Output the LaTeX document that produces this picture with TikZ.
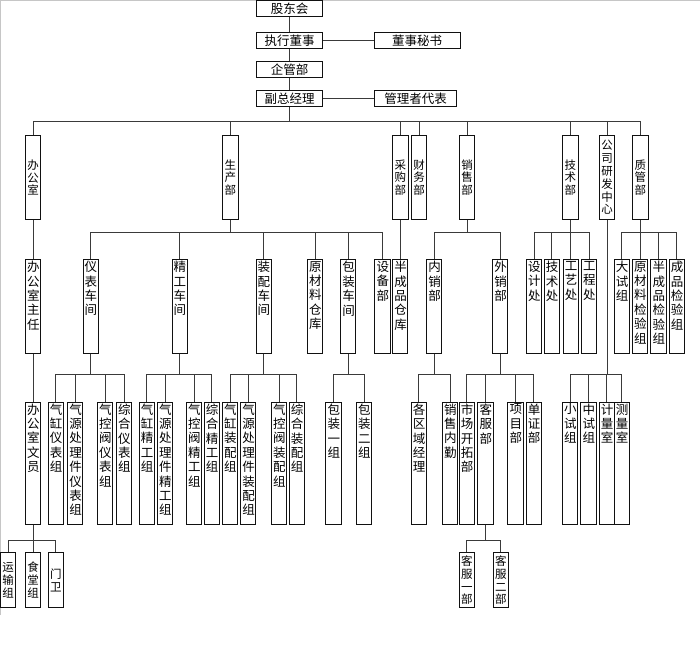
\documentclass[tikz,border=0pt]{standalone}
\usepackage{fontspec}
\newfontfamily\cjk{Noto Sans CJK SC}
\definecolor{ink}{HTML}{111111}
\definecolor{rule}{HTML}{3A3A3A}
\definecolor{edge}{HTML}{C6C6C6}
\newcommand{\vcol}[2]{\parbox[t][#1][t]{12pt}{\centering #2}}

\begin{document}
\begin{tikzpicture}[x=1pt,y=-1pt,font=\cjk,
  topbox/.style={draw=ink,line width=0.9pt,anchor=north,inner sep=0pt,
    minimum height=16pt,font=\cjk\fontsize{12.5}{14}\selectfont},
  deptbox/.style={draw=ink,line width=0.9pt,anchor=north,inner sep=0pt,
    minimum width=15.3pt,minimum height=84.3pt,align=center,
    font=\cjk\fontsize{11.5}{12.8}\selectfont},
  crewbox/.style={deptbox,minimum height=55pt},
  unitbox/.style={draw=ink,line width=0.9pt,anchor=north,inner xsep=1.6pt,
    inner ysep=1.5pt,font=\cjk\fontsize{12.5}{14.4}\selectfont},
  link/.style={draw=rule,line width=0.75pt}]
  \useasboundingbox (0,0) rectangle (700,663);
  \draw[edge,line width=1pt] (0.5,615) -- (0.5,0.5) -- (700,0.5);

  % Board and management chain
  \node[topbox,minimum width=65.6pt] (gdh) at (289.5,0.4) {股东会};
  \node[topbox,minimum width=65.6pt] (zxds) at (289.5,32.3) {执行董事};
  \node[topbox,minimum width=85.7pt] (dsms) at (417.2,32.3) {董事秘书};
  \node[topbox,minimum width=65.6pt] (qgb) at (289.5,61.2) {企管部};
  \node[topbox,minimum width=65.6pt] (fzjl) at (289.5,90) {副总经理};
  \node[topbox,minimum width=82.4pt] (glzdb) at (415.5,90) {管理者代表};

  \draw[link] (gdh.south) -- (zxds.north);
  \draw[link] (zxds.south) -- (qgb.north);
  \draw[link] (qgb.south) -- (fzjl.north);
  \draw[link] (zxds.east) -- (dsms.west);
  \draw[link] (fzjl.east) -- (glzdb.west);

  \coordinate (b0) at (0,121.7);
  \coordinate (b2) at (0,232.7);
  \coordinate (b3) at (0,374);
  \coordinate (b4) at (0,540);

  % Departments
  \node[deptbox] (bgs) at (33.2,135) {办\\公\\室};
  \node[deptbox] (scb) at (230.3,135) {生\\产\\部};
  \node[deptbox] (cgb) at (400.3,135) {采\\购\\部};
  \node[deptbox] (cwb) at (419,135) {财\\务\\部};
  \node[deptbox] (xsb) at (467,135) {销\\售\\部};
  \node[deptbox] (jsb) at (570.3,135) {技\\术\\部};
  \node[deptbox] (yfzx) at (607,135) {公\\司\\研\\发\\中\\心};
  \node[deptbox] (zgb) at (640.3,135) {质\\管\\部};

  \foreach \d in {bgs,scb,cgb,cwb,xsb,jsb,yfzx,zgb}
    \draw[link] (fzjl.south) -- (fzjl.south |- b0) -| (\d.north);

  % Workshops and offices
  \node[unitbox] (bzr) at (33.2,259.3) {\vcol{90.4pt}{办\\公\\室\\主\\任}};
  \node[unitbox] (ybcj) at (90.7,259.3) {\vcol{90.4pt}{仪\\表\\车\\间}};
  \node[unitbox] (jgcj) at (179.7,259.3) {\vcol{90.4pt}{精\\工\\车\\间}};
  \node[unitbox] (zpcj) at (263.7,259.3) {\vcol{90.4pt}{装\\配\\车\\间}};
  \node[unitbox] (yclk) at (315,259.3) {\vcol{90.4pt}{原\\材\\料\\仓\\库}};
  \node[unitbox] (bzcj) at (348.3,259.3) {\vcol{90.4pt}{包\\装\\车\\间}};
  \node[unitbox] (sbb) at (382.5,259.3) {\vcol{90.4pt}{设\\备\\部}};
  \node[unitbox] (bcpk) at (400.3,259.3) {\vcol{90.4pt}{半\\成\\品\\仓\\库}};
  \node[unitbox] (nxb) at (434.3,259.3) {\vcol{90.4pt}{内\\销\\部}};
  \node[unitbox] (wxb) at (500.3,259.3) {\vcol{90.4pt}{外\\销\\部}};
  \node[unitbox] (sjc) at (534.2,259.3) {\vcol{90.4pt}{设\\计\\处}};
  \node[unitbox] (jsc) at (551.8,259.3) {\vcol{90.4pt}{技\\术\\处}};
  \node[unitbox] (gyc) at (570.8,259.3) {\vcol{90.4pt}{工\\艺\\处}};
  \node[unitbox] (gcc) at (589.2,259.3) {\vcol{90.4pt}{工\\程\\处}};
  \node[unitbox] (dsz) at (621.8,259.3) {\vcol{90.4pt}{大\\试\\组}};
  \node[unitbox] (ycljy) at (640.2,259.3) {\vcol{90.4pt}{原\\材\\料\\检\\验\\组}};
  \node[unitbox] (bcpjy) at (658.5,259.3) {\vcol{90.4pt}{半\\成\\品\\检\\验\\组}};
  \node[unitbox] (cpjy) at (676.8,259.3) {\vcol{90.4pt}{成\\品\\检\\验\\组}};

  \draw[link] (bgs.south) -- (bzr.north);
  \draw[link] (cgb.south) -- (bcpk.north);
  \foreach \u in {ybcj,jgcj,zpcj,yclk,bzcj,sbb}
    \draw[link] (scb.south) -- (scb.south |- b2) -| (\u.north);
  \foreach \u in {nxb,wxb}
    \draw[link] (xsb.south) -- (xsb.south |- b2) -| (\u.north);
  \foreach \u in {sjc,jsc,gyc,gcc}
    \draw[link] (jsb.south) -- (jsb.south |- b2) -| (\u.north);
  \foreach \u in {dsz,ycljy,bcpjy,cpjy}
    \draw[link] (zgb.south) -- (zgb.south |- b2) -| (\u.north);

  % Groups
  \node[unitbox] (bwy) at (33.2,401.7) {\vcol{119.3pt}{办\\公\\室\\文\\员}};
  \node[unitbox] (qgyb) at (55.8,401.7) {\vcol{119.3pt}{气\\缸\\仪\\表\\组}};
  \node[unitbox] (qyyb) at (75.3,401.7) {\vcol{119.3pt}{气\\源\\处\\理\\件\\仪\\表\\组}};
  \node[unitbox] (qkyb) at (105,401.7) {\vcol{119.3pt}{气\\控\\阀\\仪\\表\\组}};
  \node[unitbox] (zhyb) at (124.2,401.7) {\vcol{119.3pt}{综\\合\\仪\\表\\组}};
  \node[unitbox] (qgjg) at (146.8,401.7) {\vcol{119.3pt}{气\\缸\\精\\工\\组}};
  \node[unitbox] (qyjg) at (165,401.7) {\vcol{119.3pt}{气\\源\\处\\理\\件\\精\\工\\组}};
  \node[unitbox] (qkjg) at (194.2,401.7) {\vcol{119.3pt}{气\\控\\阀\\精\\工\\组}};
  \node[unitbox] (zhjg) at (211.8,401.7) {\vcol{119.3pt}{综\\合\\精\\工\\组}};
  \node[unitbox] (qgzp) at (230.2,401.7) {\vcol{119.3pt}{气\\缸\\装\\配\\组}};
  \node[unitbox] (qyzp) at (248.3,401.7) {\vcol{119.3pt}{气\\源\\处\\理\\件\\装\\配\\组}};
  \node[unitbox] (qkzp) at (279.2,401.7) {\vcol{119.3pt}{气\\控\\阀\\装\\配\\组}};
  \node[unitbox] (zhzp) at (296.8,401.7) {\vcol{119.3pt}{综\\合\\装\\配\\组}};
  \node[unitbox] (bz1) at (333.5,401.7) {\vcol{119.3pt}{包\\装\\一\\组}};
  \node[unitbox] (bz2) at (364.2,401.7) {\vcol{119.3pt}{包\\装\\二\\组}};
  \node[unitbox] (gqy) at (418.8,401.7) {\vcol{119.3pt}{各\\区\\域\\经\\理}};
  \node[unitbox] (xsnq) at (450.2,401.7) {\vcol{119.3pt}{销\\售\\内\\勤}};
  \node[unitbox] (sckt) at (466.8,401.7) {\vcol{119.3pt}{市\\场\\开\\拓\\部}};
  \node[unitbox] (kfb) at (485.5,401.7) {\vcol{119.3pt}{客\\服\\部}};
  \node[unitbox] (xmb) at (515.5,401.7) {\vcol{119.3pt}{项\\目\\部}};
  \node[unitbox] (dzb) at (533.8,401.7) {\vcol{119.3pt}{单\\证\\部}};
  \node[unitbox] (xsz) at (570.2,401.7) {\vcol{119.3pt}{小\\试\\组}};
  \node[unitbox] (zsz) at (588.5,401.7) {\vcol{119.3pt}{中\\试\\组}};
  \node[unitbox] (jls) at (606.8,401.7) {\vcol{119.3pt}{计\\量\\室}};
  \node[unitbox] (cls) at (621.8,401.7) {\vcol{119.3pt}{测\\量\\室}};

  \draw[link] (bzr.south) -- (bwy.north);
  \foreach \g in {qgyb,qyyb,qkyb,zhyb}
    \draw[link] (ybcj.south) -- (ybcj.south |- b3) -| (\g.north);
  \foreach \g in {qgjg,qyjg,qkjg,zhjg}
    \draw[link] (jgcj.south) -- (jgcj.south |- b3) -| (\g.north);
  \foreach \g in {qgzp,qyzp,qkzp,zhzp}
    \draw[link] (zpcj.south) -- (zpcj.south |- b3) -| (\g.north);
  \foreach \g in {bz1,bz2}
    \draw[link] (bzcj.south) -- (bzcj.south |- b3) -| (\g.north);
  \foreach \g in {gqy,xsnq}
    \draw[link] (nxb.south) -- (nxb.south |- b3) -| (\g.north);
  \foreach \g in {sckt,kfb,xmb,dzb}
    \draw[link] (wxb.south) -- (wxb.south |- b3) -| (\g.north);
  \foreach \g in {xsz,zsz,jls,cls}
    \draw[link] (yfzx.south) -- (yfzx.south |- b3) -| (\g.north);

  % Bottom teams
  \node[crewbox] (ysz) at (8.2,552.3) {运\\输\\组};
  \node[crewbox] (stz) at (33.2,552.3) {食\\堂\\组};
  \node[crewbox] (mw) at (55.8,552.3) {门\\卫};
  \node[crewbox] (kf1) at (466.8,552.3) {客\\服\\一\\部};
  \node[crewbox] (kf2) at (500.8,552.3) {客\\服\\二\\部};

  \foreach \t in {ysz,stz,mw}
    \draw[link] (bwy.south) -- (bwy.south |- b4) -| (\t.north);
  \foreach \t in {kf1,kf2}
    \draw[link] (kfb.south) -- (kfb.south |- b4) -| (\t.north);
\end{tikzpicture}
\end{document}
